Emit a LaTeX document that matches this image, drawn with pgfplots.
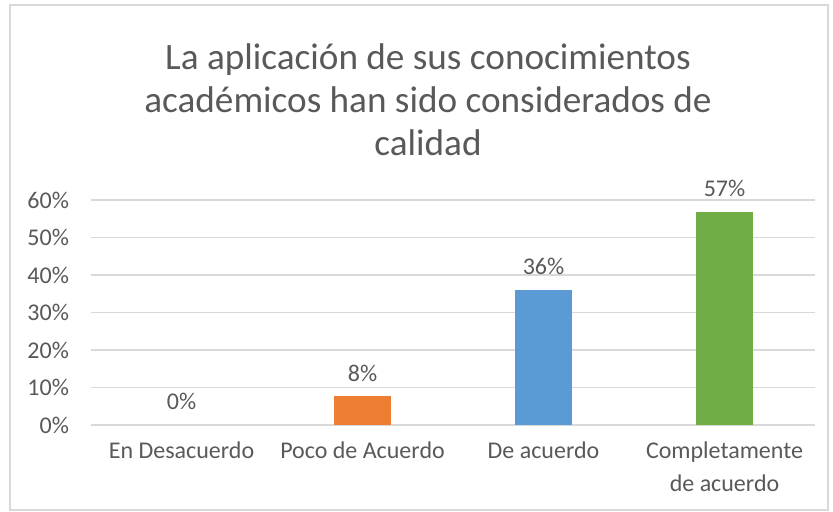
\documentclass[border=0pt]{standalone}
\usepackage{pgfplots}
\pgfplotsset{compat=1.18}
\usepackage{fontspec}
\setmainfont{Carlito}
\definecolor{txt}{HTML}{595959}
\definecolor{gridc}{HTML}{D9D9D9}
\definecolor{c1}{HTML}{ED7D31}
\definecolor{c2}{HTML}{5B9BD5}
\definecolor{c3}{HTML}{70AD47}
\begin{document}
\begin{tikzpicture}[x=1pt,y=1pt]
\useasboundingbox (-45.5,-43.5) rectangle (371,212.5);
\draw[gridc, line width=0.6pt] (-40.5,-42.5) rectangle (368.5,210);
\begin{axis}[
  at={(0,0)}, anchor=south west,
  scale only axis, width=362pt, height=112.5pt,
  ymin=0, ymax=60, xmin=-0.5, xmax=3.5,
  ytick={0,10,...,60},
  yticklabel={\pgfmathprintnumber{\tick}\%},
  /pgf/number format/assume math mode=true,
  xtick={0,1,2,3},
  xticklabels={En Desacuerdo,Poco de Acuerdo,De acuerdo,Completamente\\de acuerdo},
  xticklabel style={align=center, font=\fontsize{12}{16.5}\selectfont, text=txt, yshift=-5pt},
  yticklabel style={font=\fontsize{12}{14}\selectfont, text=txt, xshift=-7.5pt},
  major tick length=0pt,
  axis line style={draw=none},
  ymajorgrids, grid style={gridc, line width=0.9pt},
  axis x line*=bottom,
  ybar, bar width=28.5pt, bar shift=0pt,
  point meta=explicit symbolic,
  nodes near coords,
  nodes near coords style={font=\fontsize{12}{14}\selectfont, text=txt, yshift=4pt},
  clip=false,
]
\draw[gridc, line width=0.9pt] (axis cs:-0.5,0) -- (axis cs:3.5,0);
\addplot[draw=none, fill=none] coordinates {(0,0) [0\%]};
\addplot[draw=none, fill=c1] coordinates {(1,7.6) [8\%]};
\addplot[draw=none, fill=c2] coordinates {(2,36.0) [36\%]};
\addplot[draw=none, fill=c3] coordinates {(3,56.8) [57\%]};
\end{axis}
\node[align=center, font=\fontsize{18.6}{21.5}\selectfont, text=txt] at (168.5,162.5) {La aplicación de sus conocimientos\\académicos han sido considerados de\\calidad};
\end{tikzpicture}
\end{document}
